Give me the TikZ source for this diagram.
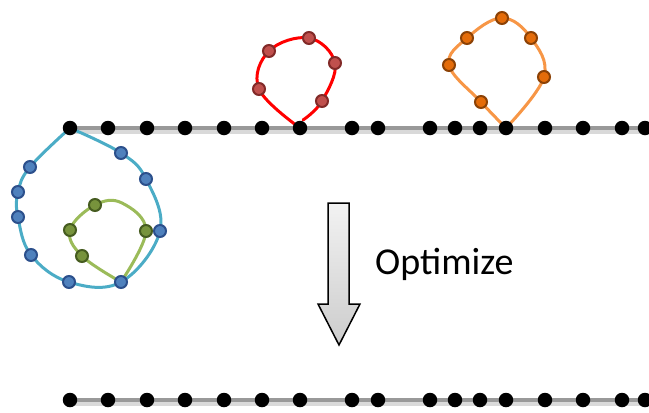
\documentclass[tikz,border=0pt]{standalone}
\usepackage{fontspec}
\setmainfont{Carlito}
\begin{document}
\begin{tikzpicture}[x=1pt,y=-1pt,
  bdot/.style={circle,fill=black,inner sep=0pt,minimum size=14.5pt},
  cdot/.style={circle,inner sep=0pt,minimum size=12pt,line width=2pt},
  bluedot/.style={cdot,fill={rgb,255:red,79;green,129;blue,189},draw={rgb,255:red,44;green,80;blue,140}},
  greendot/.style={cdot,fill={rgb,255:red,119;green,147;blue,60},draw={rgb,255:red,70;green,92;blue,32}},
  reddot/.style={cdot,fill={rgb,255:red,192;green,80;blue,77},draw={rgb,255:red,130;green,42;blue,40}},
  orangedot/.style={cdot,fill={rgb,255:red,228;green,108;blue,10},draw={rgb,255:red,140;green,66;blue,6}},
  track/.style={line width=3.5pt,gray!80},
  trackshadow/.style={line width=7pt,gray!30},
  loop/.style={line width=3pt,smooth,tension=0.65,line cap=round,line join=round}
]
\useasboundingbox (0,0) rectangle (649,413);
% tracks
\draw[trackshadow] (70,130) -- (649,130);
\draw[track] (70,128) -- (649,128);
\draw[trackshadow] (70,402) -- (649,402);
\draw[track] (70,400) -- (649,400);

% coordinates of dots on the tracks
\foreach \x [count=\i] in {70,108,147,185,224,262,300,352,378,430,455,480,506,545,583,622,645}{
  \coordinate (t\i) at (\x,128);
  \coordinate (b\i) at (\x,400);
}

% blue loop
\coordinate (u1) at (30,167);
\coordinate (u2) at (18,192);
\coordinate (u3) at (18,217);
\coordinate (u4) at (31,255);
\coordinate (u5) at (69,282);
\coordinate (u6) at (121,282);
\coordinate (u7) at (160,231);
\coordinate (u8) at (146,179);
\coordinate (u9) at (121,153);
\draw[loop,draw={rgb,255:red,75;green,172;blue,198}] plot coordinates {(t1) (u1) (u2) (u3) (u4) (u5) (u6) (u7) (u8) (u9) (t1)};

% green loop
\coordinate (g1) at (146,231);
\coordinate (g0) at (122,203);
\coordinate (g2) at (95,205);
\coordinate (g3) at (70,230);
\coordinate (g4) at (82,256);
\draw[loop,draw={rgb,255:red,155;green,187;blue,89}] plot coordinates {(u6) (g1) (g0) (g2) (g3) (g4) (u6)};

% red loop
\coordinate (r1) at (259,89);
\coordinate (r2) at (269,51);
\coordinate (r3) at (309,38);
\coordinate (r4) at (335,63);
\coordinate (r5) at (322,101);
\coordinate (r6) at (303,120);
\draw[loop,draw=red] plot coordinates {(t7) (r1) (r2) (r3) (r4) (r5) (r6)};

% orange loop
\coordinate (o1) at (481,102);
\coordinate (o2) at (449,65);
\coordinate (o3) at (467,38);
\coordinate (o4) at (502,18);
\coordinate (o5) at (531,38);
\coordinate (o6) at (544,77);
\draw[loop,draw={rgb,255:red,247;green,150;blue,70}] plot coordinates {(t13) (o1) (o2) (o3) (o4) (o5) (o6) (t13)};

% black dots
\foreach \i in {1,...,17}{
  \node[bdot] (nt\i) at (t\i) {};
  \node[bdot] (nb\i) at (b\i) {};
}
% colored dots
\foreach \c in {u1,u2,u3,u4,u5,u6,u7,u8,u9}{\node[bluedot] (n\c) at (\c) {};}
\foreach \c in {g1,g2,g3,g4}{\node[greendot] (n\c) at (\c) {};}
\foreach \c in {r1,r2,r3,r4,r5}{\node[reddot] (n\c) at (\c) {};}
\foreach \c in {o1,o2,o3,o4,o5,o6}{\node[orangedot] (n\c) at (\c) {};}

% arrow
\shade[top color=gray!10,bottom color=gray!40,draw=black,line width=1.5pt,line join=miter]
  (328,203) -- (349,203) -- (349,304) -- (360,304) -- (339,345) -- (318,304) -- (328,304) -- cycle;

% label
\node[anchor=base west,inner sep=0pt,font=\fontsize{38}{38}\selectfont] (opt) at (375,274) {Optimize};
\end{tikzpicture}
\end{document}
